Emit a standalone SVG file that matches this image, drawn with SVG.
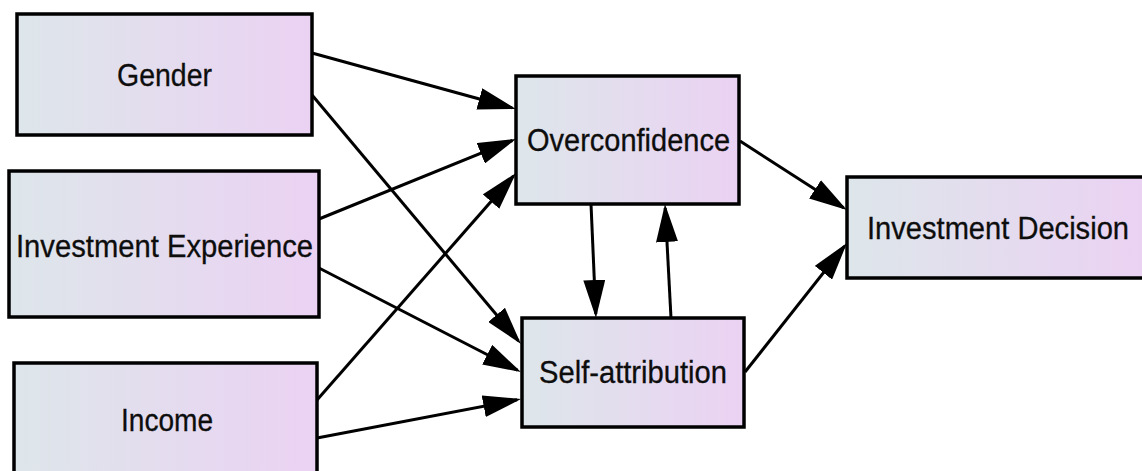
<svg xmlns="http://www.w3.org/2000/svg" width="1142" height="471" viewBox="0 0 1142 471">
  <style>
    .box { fill: url(#g); stroke: #000; stroke-width: 3.5; }
    .lbl { font-family: "Liberation Sans", Arial, sans-serif; font-size: 31px; fill: #0d0d0d; text-anchor: middle; stroke: #0d0d0d; stroke-width: 0.3; }
    .edge { stroke: #000; stroke-width: 3; fill: none; marker-end: url(#arr); }
  </style>
  <defs>
    <linearGradient id="g" x1="0" y1="0" x2="1" y2="0">
      <stop offset="0" stop-color="#dde6ea"/>
      <stop offset="1" stop-color="#ebd2f3"/>
    </linearGradient>
    <marker id="arr" markerUnits="userSpaceOnUse" markerWidth="38" markerHeight="22" refX="34" refY="11" orient="auto" viewBox="0 0 38 22">
      <path d="M0,0 L38,11 L0,22 Z" fill="#000"/>
    </marker>
  </defs>

  <g id="connectors">
    <line class="edge" x1="312" y1="53" x2="512.1" y2="107.9"/>
    <line class="edge" x1="312" y1="95" x2="518.4" y2="340.9"/>
    <line class="edge" x1="319" y1="219" x2="512.3" y2="140.5"/>
    <line class="edge" x1="319" y1="268" x2="517.4" y2="370.2"/>
    <line class="edge" x1="317" y1="400" x2="513.4" y2="176"/>
    <line class="edge" x1="317" y1="438" x2="517.1" y2="399.8"/>
    <line class="edge" x1="591" y1="204" x2="595.8" y2="314"/>
    <line class="edge" x1="671" y1="318" x2="665.2" y2="208"/>
    <line class="edge" x1="740" y1="141" x2="843.6" y2="207.8"/>
    <line class="edge" x1="745" y1="372" x2="844.5" y2="246.1"/>
  </g>

  <g id="gender">
    <rect class="box" x="17" y="14" width="295" height="121"/>
    <text class="lbl" x="164.5" y="86" textLength="95" lengthAdjust="spacingAndGlyphs">Gender</text>
  </g>
  <g id="investment-experience">
    <rect class="box" x="9" y="171" width="310" height="146"/>
    <text class="lbl" x="164.5" y="257" textLength="297" lengthAdjust="spacingAndGlyphs">Investment Experience</text>
  </g>
  <g id="income">
    <rect class="box" x="14" y="363" width="303" height="120"/>
    <text class="lbl" x="167" y="431" textLength="92" lengthAdjust="spacingAndGlyphs">Income</text>
  </g>
  <g id="overconfidence">
    <rect class="box" x="516" y="76" width="223" height="128"/>
    <text class="lbl" x="628.5" y="151" textLength="203" lengthAdjust="spacingAndGlyphs">Overconfidence</text>
  </g>
  <g id="self-attribution">
    <rect class="box" x="522" y="318" width="222" height="109"/>
    <text class="lbl" x="633" y="383" textLength="188" lengthAdjust="spacingAndGlyphs">Self-attribution</text>
  </g>
  <g id="investment-decision">
    <rect class="box" x="847" y="177" width="300" height="101"/>
    <text class="lbl" x="998" y="239" textLength="262" lengthAdjust="spacingAndGlyphs">Investment Decision</text>
  </g>
</svg>
